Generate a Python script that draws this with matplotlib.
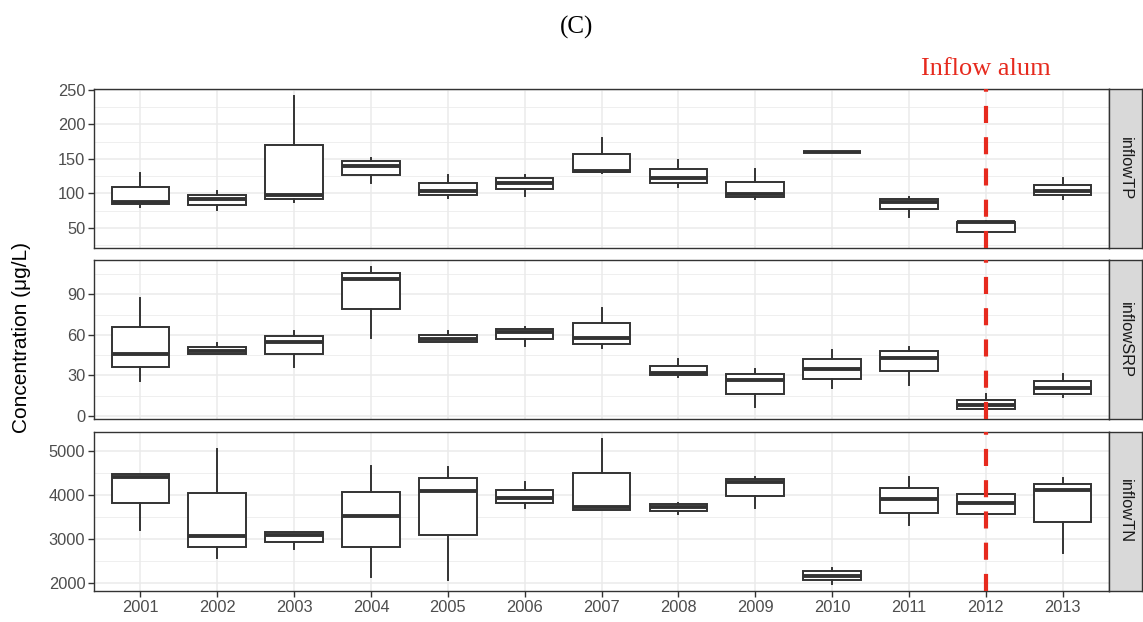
import numpy as np
import matplotlib
matplotlib.use("Agg")
import matplotlib.pyplot as plt
import matplotlib.transforms as mtransforms
from matplotlib.ticker import MultipleLocator

plt.rcParams['font.family'] = ['Liberation Sans', 'DejaVu Sans']

years = [str(y) for y in range(2001, 2014)]

# inflowTP
tp_whislo = [81, 76, 88, 115, 93, 96, 130, 109, 92, 159.5, 66, 31, 92]
tp_q1 = [84, 83, 92, 127, 97, 106, 131, 115, 95, 159.5, 77, 44, 97]
tp_med = [87, 92, 97, 140, 104, 115, 133, 123, 99, 160, 88, 58, 103]
tp_q3 = [109, 97, 170, 147, 115, 122, 157, 135, 117, 160.5, 92, 59, 112]
tp_whishi = [129, 103, 241, 152, 127, 127, 181, 148, 135, 160.5, 95, 60, 122]

# inflowSRP
srp_whislo = [26, 46, 36, 58, 55, 52, 50, 29, 7, 21, 23, 3, 14]
srp_q1 = [36, 46, 45.5, 79, 55, 57, 53.5, 30.5, 16.5, 27.5, 33, 5, 16.5]
srp_med = [46, 48, 55, 101, 57, 62, 57.5, 32, 27, 35, 43, 8.5, 21]
srp_q3 = [66, 51, 59.5, 105.5, 60, 64, 69, 37, 31, 42, 48, 12, 26]
srp_whishi = [87, 54, 63, 110, 63, 66, 80, 42, 35, 49, 51, 16, 31]

# inflowTN
tn_whislo = [3200, 2570, 2770, 2140, 2060, 3710, 3670, 3560, 3700, 1980, 3310, 3340, 2690]
tn_q1 = [3810, 2810, 2940, 2820, 3090, 3810, 3670, 3630, 3980, 2060, 3600, 3570, 3390]
tn_med = [4420, 3060, 3100, 3520, 4100, 3940, 3720, 3720, 4290, 2160, 3900, 3830, 4110]
tn_q3 = [4470, 4050, 3160, 4080, 4380, 4110, 4500, 3790, 4360, 2270, 4160, 4020, 4250]
tn_whishi = [4480, 5040, 3160, 4660, 4630, 4290, 5280, 3830, 4420, 2340, 4420, 4150, 4380]

panels = [
    ("inflowTP", tp_whislo, tp_q1, tp_med, tp_q3, tp_whishi, [50, 100, 150, 200, 250], 25),
    ("inflowSRP", srp_whislo, srp_q1, srp_med, srp_q3, srp_whishi, [0, 30, 60, 90], 15),
    ("inflowTN", tn_whislo, tn_q1, tn_med, tn_q3, tn_whishi, [2000, 3000, 4000, 5000], 500),
]

alum_year = "2012"

W, H = 1143, 622
fig = plt.figure(figsize=(W / 100, H / 100), dpi=100)

left, right = 94.3, 1108.7
strip_w = 33.5
tops = [89, 260, 431.7]
ph = 159.2
dark = '#333333'
red = '#E62A1E'

axes = []
for i, (name, wlo, q1, med, q3, whi, yt, minor) in enumerate(panels):
    y0 = 1 - (tops[i] + ph) / H
    ax = fig.add_axes([left / W, y0, (right - left) / W, ph / H])
    stats = []
    for k in range(len(years)):
        stats.append(dict(whislo=wlo[k], q1=q1[k], med=med[k], q3=q3[k], whishi=whi[k]))
    pos = np.arange(1, len(years) + 1)
    ax.bxp(stats, positions=pos, widths=0.75, showfliers=False, showcaps=False,
           patch_artist=True,
           boxprops=dict(facecolor='white', edgecolor=dark, linewidth=1.4),
           medianprops=dict(color=dark, linewidth=2.8, solid_capstyle='butt'),
           whiskerprops=dict(color=dark, linewidth=1.4))
    ax.axvline(years.index(alum_year) + 1, color=red, linewidth=3,
               linestyle=(0, (4.1, 3.4)), zorder=5)

    lo, hi = min(wlo), max(whi)
    r = hi - lo
    ax.set_ylim(lo - 0.05 * r, hi + 0.05 * r)
    ax.set_xlim(0.4, len(years) + 0.6)
    ax.set_yticks(yt)
    ax.yaxis.set_minor_locator(MultipleLocator(minor))
    ax.set_xticks(pos)
    ax.set_axisbelow(True)
    ax.grid(which='major', color='#EBEBEB', linewidth=1.1)
    ax.grid(which='minor', axis='y', color='#EBEBEB', linewidth=0.55)
    ax.tick_params(axis='y', which='minor', length=0)
    ax.tick_params(which='major', length=4, width=1, color=dark, pad=2.5,
                   labelsize=11.8, labelcolor='#4D4D4D')
    for s in ax.spines.values():
        s.set_color(dark)
        s.set_linewidth(1.0)
    if i < 2:
        ax.tick_params(axis='x', bottom=False, labelbottom=False)
    else:
        ax.set_xticklabels(years)

    sax = fig.add_axes([right / W, y0, strip_w / W, ph / H])
    sax.set_facecolor('#D9D9D9')
    sax.set_xticks([])
    sax.set_yticks([])
    for s in sax.spines.values():
        s.set_color(dark)
        s.set_linewidth(1.0)
    sax.text(0.5, 0.5, name, rotation=270, ha='center', va='center',
             fontsize=11.8, color='#1A1A1A', transform=sax.transAxes)
    axes.append(ax)

ax1 = axes[0]
trans = mtransforms.blended_transform_factory(ax1.transData, ax1.transAxes)
ax1.text(years.index(alum_year) + 1, 1 + 14 / ph, "Inflow alum", ha='center', va='baseline',
         color=red, fontsize=19, family='Liberation Serif', transform=trans)

fig.text(577 / W, 1 - 27 / H, "(C)", ha='center', va='center', fontsize=18,
         family='Liberation Serif', color='black')
fig.text(22 / W, 1 - 337.5 / H, "Concentration (\u03bcg/L)", rotation=90, ha='center',
         va='center', fontsize=15, color='black')

fig.savefig("out.png", dpi=100)
